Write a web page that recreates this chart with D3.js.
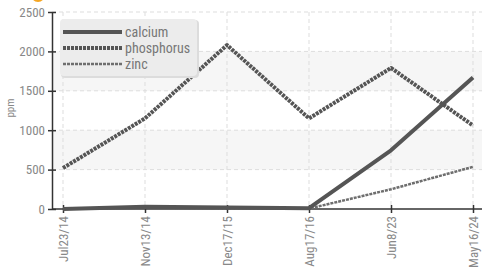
<!DOCTYPE html>
<html>
<head>
<meta charset="utf-8">
<script src="https://cdn.jsdelivr.net/npm/d3@7"></script>
<style>
  body { margin: 0; background: #fff; }
  text { font-family: "Liberation Sans Narrow", "Roboto Condensed", Roboto, sans-serif; }
</style>
</head>
<body>
<svg width="482" height="278"></svg>
<script>
var dates = ["Jul23/14", "Nov13/14", "Dec17/15", "Aug17/16", "Jun8/23", "May16/24"];
var calcium = [0, 30, 20, 10, 745, 1670];
var phosphorus = [520, 1150, 2080, 1150, 1790, 1060];
var zinc = [0, 20, 10, 5, 250, 535];
var yTicks = [0, 500, 1000, 1500, 2000, 2500];

var series = [
    {name: "zinc", values: zinc, width: 2.5, dash: "3,1", color: "#6e6e6e"},
    {name: "phosphorus", values: phosphorus, width: 4, dash: "3,1", color: "#555"},
    {name: "calcium", values: calcium, width: 4, dash: null, color: "#555"}
];

var svg = d3.select("svg");

var x = d3.scalePoint().domain(dates).range([63, 473]);
var y = d3.scaleLinear().domain([0, 2500]).range([209, 12]);

// orange marker peeking at the top
svg.append("circle").attr("cx", 38).attr("cy", -5).attr("r", 7).attr("fill", "#f5a623");

// alternating bands
[[500, 1000], [1500, 2000]].forEach(function(b) {
    svg.append("rect")
        .attr("x", 52).attr("width", 430)
        .attr("y", y(b[1])).attr("height", y(b[0]) - y(b[1]))
        .attr("fill", "#f6f6f6");
});

// grid
var grid = svg.append("g").attr("stroke", "#ddd").attr("stroke-dasharray", "4,3");
grid.selectAll("line.h").data(yTicks.slice(1)).join("line")
    .attr("x1", 52).attr("x2", 482)
    .attr("y1", d => y(d)).attr("y2", d => y(d));
grid.selectAll("line.v").data(dates).join("line")
    .attr("x1", d => x(d)).attr("x2", d => x(d))
    .attr("y1", 12).attr("y2", 209);

// axes
var yAxis = svg.append("g").attr("transform", "translate(52,0)")
    .call(d3.axisLeft(y).tickValues(yTicks).tickFormat(d3.format("d")).tickSize(4).tickSizeOuter(0));
yAxis.selectAll(".tick line").attr("x2", 4).attr("x1", -4);
yAxis.selectAll(".tick text").attr("x", -7);
var xAxis = svg.append("g").attr("transform", "translate(0,209)")
    .call(d3.axisBottom(x).tickSize(4).tickSizeOuter(0));
xAxis.selectAll(".tick line").attr("y1", -4).attr("y2", 4);
xAxis.select(".domain").attr("d", "M52,0H482");
xAxis.selectAll(".tick text")
    .attr("transform", "rotate(-90)")
    .attr("text-anchor", "end")
    .attr("x", -7).attr("y", 0).attr("dy", "0.35em");
[yAxis, xAxis].forEach(function(a) {
    a.select(".domain").attr("stroke", "#333").attr("stroke-width", 1.5);
    a.selectAll(".tick line").attr("stroke", "#333").attr("stroke-width", 1.5);
    a.selectAll(".tick text").attr("fill", "#888").attr("font-size", 13);
});

svg.append("text")
    .attr("transform", "translate(14,108) rotate(-90)")
    .attr("text-anchor", "middle")
    .attr("fill", "#888").attr("font-size", 11)
    .text("ppm");

// lines
var line = d3.line().x((d, i) => x(dates[i])).y(d => y(d));
svg.append("g").selectAll("path").data(series).join("path")
    .attr("fill", "none")
    .attr("stroke", d => d.color)
    .attr("stroke-width", d => d.width)
    .attr("stroke-dasharray", d => d.dash)
    .attr("stroke-linejoin", "round")
    .attr("d", d => line(d.values));

// legend
var legend = svg.append("g");
legend.append("rect")
    .attr("x", 61).attr("y", 20).attr("width", 138).attr("height", 58).attr("rx", 4)
    .attr("fill", "#dcdcdc");
legend.append("rect")
    .attr("x", 60).attr("y", 19).attr("width", 137).attr("height", 57).attr("rx", 4)
    .attr("fill", "#ececec");
var items = legend.selectAll("g").data(series.slice().reverse()).join("g")
    .attr("transform", (d, i) => "translate(0," + (32 + i * 16) + ")");
items.append("line")
    .attr("x1", 63).attr("x2", 122)
    .attr("stroke", d => d.color)
    .attr("stroke-width", d => d.width)
    .attr("stroke-dasharray", d => d.dash);
items.append("text")
    .attr("x", 125).attr("dy", "0.35em")
    .attr("fill", "#777").attr("font-size", 14)
    .text(d => d.name);
</script>
</body>
</html>
